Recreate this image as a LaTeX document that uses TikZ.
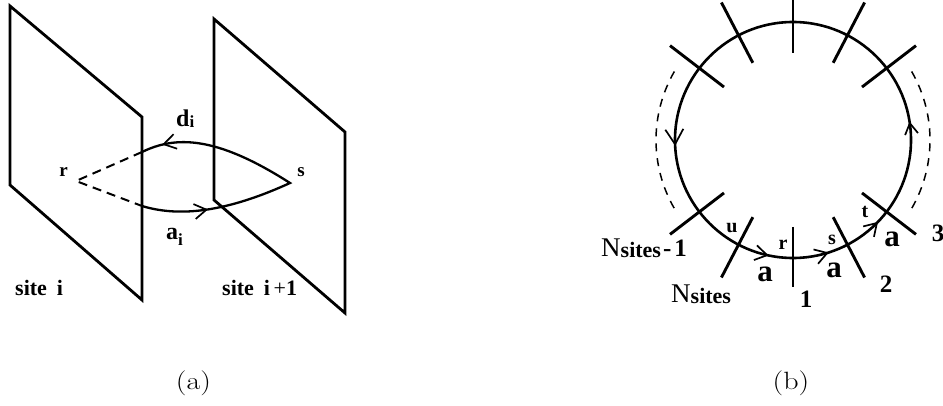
\documentclass[tikz,border=0pt]{standalone}
\usepackage{fontspec}
\newfontfamily\tms{Liberation Serif}
\usetikzlibrary{arrows.meta,decorations.markings}
\tikzset{
  barbL/.tip={Straight Barb[length=15pt,width=18pt,line width=1.7pt]},
  barbM/.tip={Straight Barb[length=12pt,width=15pt,line width=1.7pt]},
  barbS/.tip={Straight Barb[length=11pt,width=13pt,line width=1.7pt]},
  plane/.style={line width=2.8pt,line join=miter},
  curv/.style={line width=2.3pt,line join=miter},
  dashln/.style={line width=2pt,dash pattern=on 9pt off 6pt},
  ring/.style={line width=2.6pt},
  ticksty/.style={line width=2.9pt},
  dring/.style={line width=1.5pt,dash pattern=on 8pt off 7pt},
  lbl/.style={inner sep=0pt,font=\tms\bfseries},
  captxt/.style={inner sep=0pt,xscale=1.2,font=\fontsize{25}{30}\selectfont}
}
\begin{document}
\begin{tikzpicture}[x=1pt,y=1pt]
\useasboundingbox (0,0) rectangle (943,-406);
% ---------- panel (a) ----------
\coordinate (P1a) at (10,-6);
\coordinate (P1b) at (142,-117);
\coordinate (P1c) at (142,-300);
\coordinate (P1d) at (10,-185);
\coordinate (P2a) at (214,-19);
\coordinate (P2b) at (345,-132);
\coordinate (P2c) at (345,-313);
\coordinate (P2d) at (214,-200);
\draw[plane] (P1a) -- (P1b) -- (P1c) -- (P1d) -- cycle;
\draw[plane] (P2a) -- (P2b) -- (P2c) -- (P2d) -- cycle;
\coordinate (R) at (76,-181);
\coordinate (U) at (142,-152);
\coordinate (L) at (142,-206);
\coordinate (S) at (290,-183);
\draw[dashln] (U) -- (R) -- (L);
\draw[curv,postaction={decorate},decoration={markings,
   mark=at position 0.069 with {\arrowreversed{barbM}},
   mark=at position 0.786 with {\arrowreversed{barbM}}}]
  (U) .. controls (175,-136) and (215,-135) .. (S)
      .. controls (220,-215) and (175,-216) .. (L);
\node[lbl,anchor=base,font=\tms\bfseries\fontsize{19}{22}\selectfont] (lr) at (63.5,-177) {r};
\node[lbl,anchor=base,font=\tms\bfseries\fontsize{19}{22}\selectfont] (ls) at (301,-177) {s};
\node[lbl,anchor=base west] (ld) at (176,-127)
  {\fontsize{24}{28}\selectfont d\raisebox{-1pt}{\fontsize{17}{20}\selectfont i}};
\node[lbl,anchor=base west] (la) at (166,-240)
  {\fontsize{24}{28}\selectfont a\raisebox{-6pt}{\fontsize{17}{20}\selectfont i}};
\node[lbl,anchor=base west,font=\tms\bfseries\fontsize{22}{26}\selectfont] (site1) at (15,-295) {site\hspace{0.45em}i};
\node[lbl,anchor=base west,font=\tms\bfseries\fontsize{22}{26}\selectfont] (site2) at (222,-296) {site\hspace{0.45em}i\,\mdseries+\bfseries 1};
\node[captxt] (capa) at (193.5,-383.5) {(a)};
% ---------- panel (b) ----------
\coordinate (c) at (793,-140);
\draw[ring,postaction={decorate},decoration={markings,
   mark=at position 0.025 with {\arrow{barbS}},
   mark=at position 0.508 with {\arrow{barbL}},
   mark=at position 0.717 with {\arrow{barbM}},
   mark=at position 0.799 with {\arrow{barbM}},
   mark=at position 0.878 with {\arrow{barbM}}}]
  (c) circle[radius=118];
\foreach \a in {37.5,62.5,117.5,142.5,217.5,242.5,297.5,322.5}
  \draw[ticksty] ([shift={(\a:87)}]c) -- ([shift={(\a:155)}]c);
\draw[ticksty] ([shift={(90:87)}]c) -- ([shift={(90:140)}]c);
\draw[ticksty] ([shift={(270:87)}]c) -- ([shift={(270:147)}]c);
\draw[dring] ([shift={(150:137)}]c) arc[start angle=150,end angle=210,radius=137];
\draw[dring] ([shift={(30:137)}]c) arc[start angle=30,end angle=-32,radius=137];
\tikzset{sm/.style={lbl,anchor=base,font=\tms\bfseries\fontsize{20}{24}\selectfont},
         big/.style={lbl,anchor=base,font=\tms\bfseries\fontsize{31}{35}\selectfont},
         num/.style={lbl,anchor=base,font=\tms\bfseries\fontsize{25}{29}\selectfont}}
\node[sm] (tu) at (732,-233) {u};
\node[sm] (tr) at (783,-250) {r};
\node[sm] (ts) at (832,-245) {s};
\node[sm] (tt) at (865,-218) {t};
\node[big] (a1) at (765,-282) {a};
\node[big] (a2) at (834,-278) {a};
\node[big] (a3) at (892,-247) {a};
\node[num] (n1) at (806,-308) {1};
\node[num] (n2) at (886,-293) {2};
\node[num] (n3) at (938,-242) {3};
\node[lbl,anchor=base west] (nm1) at (601,-257)
  {{\mdseries\fontsize{27}{31}\selectfont N}\raisebox{-1pt}{\fontsize{22}{26}\selectfont sites}{\fontsize{25}{30}\selectfont\kern2pt-\kern3pt1}};
\node[lbl,anchor=base west] (nm) at (671,-302)
  {{\mdseries\fontsize{27}{31}\selectfont N}\raisebox{-1pt}{\fontsize{22}{26}\selectfont sites}};
\node[captxt] (capb) at (791,-383.5) {(b)};
\end{tikzpicture}
\end{document}
